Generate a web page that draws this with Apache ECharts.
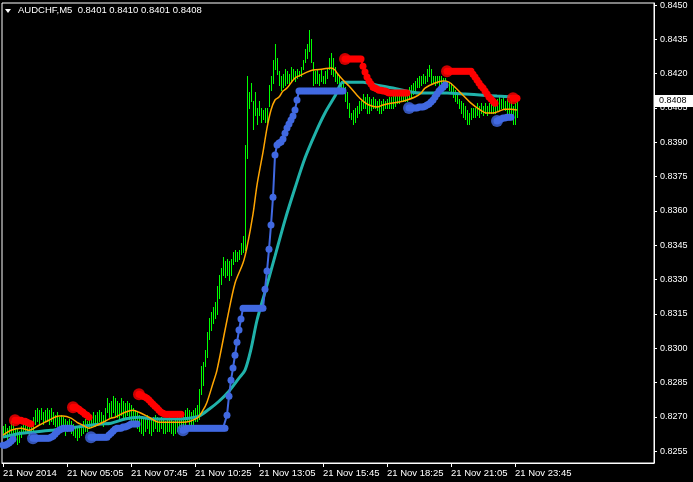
<!DOCTYPE html>
<html><head><meta charset="utf-8">
<script src="https://cdn.jsdelivr.net/npm/echarts@6/dist/echarts.min.js"></script>
<style>html,body{margin:0;padding:0;background:#000;}#c{width:693px;height:482px;}</style>
</head><body><div id="c"></div>
<script>
// ---- data ----
const symbolTitle = 'AUDCHF,M5';
const lastOHLC = [0.8401, 0.8410, 0.8401, 0.8408];
const priceTicks = [0.8255,0.8270,0.8285,0.8300,0.8315,0.8330,0.8345,0.8360,0.8375,0.8390,0.8405,0.8420,0.8435,0.8450];
const timeLabels = ['21 Nov 2014','21 Nov 05:05','21 Nov 07:45','21 Nov 10:25','21 Nov 13:05','21 Nov 15:45','21 Nov 18:25','21 Nov 21:05','21 Nov 23:45'];
const labelEvery = 32;      // bars between time labels
const slotCount = 326;      // bar slots across the window (incl. empty shift space)

// [high, low] per M5 bar
const hl = [
[.8266,.8261],[.8267,.8262],[.8265,.8260],[.8266,.8262],[.8268,.8263],[.8267,.8262],[.8265,.8260],[.8265,.8258],[.8264,.8259],[.8266,.8261],
[.8267,.8263],[.8268,.8264],[.8267,.8263],[.8266,.8262],[.8267,.8263],
[.8270,.8264],[.8273,.8267],[.8274,.8268],[.8273,.8267],[.8274,.8269],[.8272,.8267],[.8273,.8268],[.8274,.8268],[.8273,.8267],[.8274,.8268],
[.8272,.8267],[.8271,.8266],[.8272,.8266],[.8270,.8265],[.8271,.8266],
[.8270,.8264],[.8269,.8262],[.8268,.8264],[.8269,.8265],[.8268,.8263],[.8267,.8262],[.8266,.8261],[.8265,.8260],[.8266,.8261],[.8267,.8262],
[.8268,.8263],[.8269,.8264],[.8268,.8264],[.8270,.8265],[.8271,.8266],
[.8272,.8267],[.8271,.8266],[.8272,.8267],[.8273,.8268],[.8272,.8267],[.8271,.8266],[.8274,.8268],[.8278,.8272],[.8276,.8270],
[.8277,.8270],[.8279,.8272],[.8278,.8271],[.8277,.8270],[.8276,.8269],[.8278,.8271],[.8277,.8270],[.8276,.8270],[.8277,.8271],[.8276,.8269],
[.8275,.8268],[.8274,.8267],[.8273,.8266],
[.8272,.8265],[.8271,.8264],[.8270,.8263],[.8269,.8262],[.8270,.8264],[.8271,.8265],[.8270,.8263],[.8269,.8262],[.8270,.8264],[.8271,.8265],
[.8270,.8264],
[.8269,.8264],[.8270,.8265],[.8269,.8263],[.8268,.8263],[.8269,.8264],[.8270,.8264],[.8269,.8263],[.8268,.8262],[.8269,.8263],[.8270,.8264],
[.8271,.8265],[.8270,.8265],
[.8272,.8266],[.8273,.8267],[.8274,.8268],[.8273,.8267],[.8272,.8266],[.8273,.8267],[.8274,.8268],[.8275,.8268],
[.8282,.8269],[.8292,.8280],[.8294,.8284],[.8299,.8292],[.8307,.8296],[.8313,.8304],[.8316,.8308],[.8318,.8311],[.8320,.8313],[.8327,.8315],
[.8332,.8322],[.8335,.8328],[.8340,.8332],[.8338,.8331],[.8339,.8332],[.8338,.8330],[.8339,.8332],[.8342,.8337],[.8343,.8338],[.8342,.8338],
[.8343,.8339],[.8346,.8341],[.8349,.8342],[.8389,.8343],[.8419,.8383],
[.8412,.8405],[.8416,.8408],[.8408,.8396],[.8412,.8402],[.8405,.8398],[.8408,.8402],[.8405,.8399],[.8404,.8400],[.8405,.8399],[.8405,.8399],
[.8415,.8406],[.8419,.8413],[.8426,.8416],[.8433,.8422],[.8427,.8420],[.8421,.8415],[.8419,.8413],[.8420,.8414],[.8422,.8415],[.8421,.8416],
[.8420,.8415],[.8423,.8417],[.8422,.8418],[.8421,.8417],[.8422,.8418],[.8421,.8419],[.8423,.8419],[.8426,.8422],[.8431,.8425],[.8433,.8427],
[.8439,.8430],[.8435,.8425],[.8425,.8415],
[.8421,.8416],[.8422,.8416],[.8420,.8415],[.8422,.8417],[.8419,.8416],[.8421,.8416],[.8422,.8418],[.8427,.8422],[.8429,.8420],[.8427,.8419],
[.8423,.8417],[.8420,.8416],[.8419,.8416],[.8417,.8414],[.8416,.8413],[.8414,.8408],[.8412,.8405],[.8407,.8401],[.8403,.8400],[.8404,.8398],
[.8405,.8399],[.8406,.8401],[.8408,.8403],[.8408,.8404],[.8411,.8405],[.8410,.8405],[.8411,.8403],[.8410,.8403],[.8409,.8404],[.8410,.8405],
[.8409,.8405],[.8408,.8404],[.8409,.8403],[.8408,.8403],[.8409,.8404],[.8408,.8405],[.8409,.8405],[.8410,.8405],[.8410,.8405],[.8411,.8405],
[.8412,.8406],[.8412,.8407],[.8411,.8407],[.8412,.8408],[.8413,.8408],[.8413,.8408],[.8412,.8408],[.8414,.8409],[.8415,.8410],[.8416,.8411],
[.8417,.8412],[.8418,.8414],[.8419,.8414],[.8419,.8415],[.8420,.8416],[.8419,.8416],[.8422,.8417],[.8424,.8419],[.8422,.8416],[.8419,.8416],
[.8419,.8415],[.8419,.8416],[.8419,.8415],[.8419,.8416],[.8418,.8415],[.8418,.8414],[.8417,.8414],[.8416,.8413],[.8416,.8412],[.8414,.8410],
[.8413,.8408],[.8412,.8407],[.8409,.8405],[.8408,.8403],[.8407,.8401],[.8406,.8400],[.8404,.8398],[.8403,.8398],[.8405,.8400],[.8405,.8401],
[.8405,.8401],[.8407,.8402],[.8406,.8401],[.8407,.8403],[.8406,.8402],[.8407,.8403],[.8406,.8402],[.8407,.8403],[.8408,.8403],[.8408,.8403],
[.8408,.8403],[.8409,.8404],[.8410,.8404],[.8409,.8405],[.8410,.8405],[.8408,.8404],[.8409,.8403],[.8408,.8401],[.8408,.8402],[.8406,.8398],
[.8407,.8398],[.8410,.8401]
];

// fast MA (orange): [bar, value]
const fastMA = [[0,.82620],[4,.82641],[9,.82650],[13,.82641],[18,.82663],[23,.82685],[28,.82703],[30,.82703],[34,.82694],[37,.82676],
[40,.82663],[43,.82650],[47,.82663],[50,.82676],[54,.82694],[56,.82698],[61,.82720],[65,.82729],[68,.82720],[73,.82698],
[78,.82676],[83,.82676],[90,.82676],[97,.82694],[100,.82729],[102,.82764],[105,.82847],[107,.82904],[112,.83122],[116,.83284],
[120,.83372],[122,.83442],[125,.83586],[127,.83713],[130,.83857],[132,.83962],[134,.84041],[136,.84085],[138,.84098],[140,.84124],
[142,.84137],[146,.84181],[149,.84194],[152,.84207],[155,.84216],[160,.84220],[164,.84225],[166,.84216],[167,.84203],[170,.84172],
[173,.84146],[177,.84106],[180,.84080],[183,.84063],[187,.84054],[190,.84063],[194,.84071],[198,.84076],[202,.84085],[206,.84098],
[209,.84115],[211,.84137],[216,.84159],[220,.84168],[223,.84163],[226,.84141],[230,.84106],[234,.84071],[238,.84045],[242,.84028],
[245,.84028],[248,.84036],[251,.84045],[254,.84045],[257,.84041]];

// slow MA (teal): [bar, value]
const slowMA = [[0,.82611],[9,.82628],[15,.82633],[24,.82641],[32,.82650],[40,.82659],[49,.82668],[54,.82672],[61,.82690],[68,.82698],
[76,.82690],[85,.82690],[93,.82694],[98,.82703],[103,.82733],[108,.82768],[113,.82812],[118,.82869],[121,.82904],[124,.82996],
[127,.83122],[131,.83245],[136,.83402],[141,.83560],[146,.83700],[151,.83831],[156,.83936],[161,.84028],[166,.84102],[170,.84163],
[175,.84163],[180,.84163],[187,.84150],[195,.84137],[204,.84120],[209,.84115],[215,.84115],[222,.84115],[231,.84111],[240,.84106],
[247,.84102],[256,.84098]];

// trailing stop, up-trend segments (blue): [first bar, values...]
const upStop = [
 [0,  [.82576,.82576,.82580,.82585,.82593,.82602]],
 [15, [.82606,.82606,.82606,.82606,.82606,.82606,.82606,.82606,.82606,.82611,.82615,.82624,.82633,.82641,.82646,.82650,.82650,.82650,.82650,.82650]],
 [44, [.82611,.82611,.82611,.82611,.82611,.82611,.82611,.82611,.82611,.82620,.82628,.82637,.82646,.82650,.82650,.82650,.82655,.82655,.82659,.82663,.82668,.82668,.82668,.82668]],
 [90, [.82641,.82646,.82650,.82650,.82650,.82650,.82650,.82650,.82650,.82650,.82650,.82650,.82650,.82650,.82650,.82650,.82650,.82650,.82650,.82650,.82650,.82650,
       .82707,.82790,.82860,.82913,.82969,.83026,.83079,.83127,
       .83175,.83175,.83175,.83175,.83175,.83175,.83175,.83175,.83175,.83175,.83175,
       .83258,.83337,.83433,.83538,.83660,.83844,.83888,.83897,.83901,.83914,.83940,.83962,.83980,.83997,.84015,.84041,.84085,
       .84124,.84124,.84124,.84124,.84124,.84124,.84124,.84124,.84124,.84124,.84124,.84124,.84124,.84124,.84124,.84124,.84124,.84124,.84124,.84124,.84124,.84124,.84124]],
 [203,[.84050,.84050,.84050,.84050,.84050,.84054,.84054,.84054,.84058,.84063,.84067,.84076,.84085,.84098,.84111,.84124,.84133,.84141,.84150]],
 [247,[.83993,.83997,.84002,.84006,.84006,.84010,.84010,.84010]]
];
// trailing stop, down-trend segments (red)
const downStop = [
 [6,  [.82685,.82685,.82685,.82685,.82681,.82681,.82676,.82672,.82668]],
 [35, [.82742,.82742,.82738,.82733,.82725,.82720,.82711,.82707,.82698]],
 [68, [.82799,.82795,.82790,.82786,.82781,.82773,.82764,.82755,.82746,.82738,.82729,.82720,.82716,
       .82711,.82711,.82711,.82711,.82711,.82711,.82711,.82711,.82711]],
 [171,[.84264,.84264,.84264,.84264,.84264,.84264,.84264,.84264,.84264,.84233,.84207,.84185,.84168,.84155,.84141,.84137,.84133,.84128,.84128,.84124,.84124,.84120,
       .84115,.84115,.84115,.84115,.84115,.84115,.84115,.84115,.84115,.84115]],
 [222,[.84211,.84211,.84211,.84211,.84211,.84211,.84211,.84211,.84211,.84211,.84211,.84211,.84211,.84198,.84185,.84172,.84159,.84146,.84137,.84124,.84111,.84098,.84089,.84080,.84071]],
 [255,[.84093,.84093,.84093]]
];

// ---- build ----
const slots = []; for (let i = 0; i < slotCount; i++) slots.push(String(i));
function expand(segs){ const a = new Array(hl.length).fill(null); segs.forEach(s => s[1].forEach((v,k)=>{ a[s[0]+k] = v; })); return a; }
function starts(segs){ return segs.filter(s => s[0] > 0).map(s => [s[0], s[1][0]]); }
const FONT = '"Liberation Sans", Arial, sans-serif';
const showLbl = i => i % labelEvery === 0 && i / labelEvery < timeLabels.length;

const chart = echarts.init(document.getElementById('c'), null, {renderer: 'canvas'});
chart.setOption({
  animation: false,
  backgroundColor: '#000',
  textStyle: {fontFamily: FONT},
  grid: {left: 2, top: 3, width: 652, height: 460, show: true, borderColor: '#fff', borderWidth: 1, containLabel: false, outerBoundsMode: 'none'},
  xAxis: {
    type: 'category', data: slots, boundaryGap: true,
    axisLine: {show: true, lineStyle: {color: '#fff'}},
    axisTick: {show: true, alignWithLabel: true, interval: (i) => showLbl(i), length: 4, lineStyle: {color: '#fff'}},
    axisLabel: {interval: (i) => showLbl(i), formatter: (v, i) => timeLabels[i / labelEvery] || '', color: '#fff', fontSize: 9.5, fontFamily: FONT, align: 'left', margin: 5},
    splitLine: {show: false}
  },
  yAxis: {
    type: 'value', position: 'right', min: 0.82498, max: 0.84509, scale: true,
    axisLine: {show: true, lineStyle: {color: '#fff'}},
    axisTick: {show: true, customValues: priceTicks, length: 3, lineStyle: {color: '#fff'}},
    axisLabel: {customValues: priceTicks, formatter: v => v.toFixed(4), color: '#fff', fontSize: 9, fontFamily: FONT, margin: 6},
    splitLine: {show: false}
  },
  series: [
    { type: 'custom', name: 'bars', z: 1, encode: {x: 0, y: [1, 2]},
      data: hl.map((b, i) => [i, b[0], b[1]]),
      renderItem: (params, api) => {
        const i = api.value(0);
        const t = api.coord([i, api.value(1)]);
        const b = api.coord([i, api.value(2)]);
        const x = Math.round(t[0]) + 0.5;
        return {type: 'line', shape: {x1: x, y1: Math.round(t[1]), x2: x, y2: Math.round(b[1]) + 1}, style: {stroke: '#00ff00', lineWidth: 1}};
      }
    },
    { type: 'line', name: 'slow', z: 2, data: slowMA, smooth: 0.3, showSymbol: false, lineStyle: {color: '#20b2aa', width: 3}, itemStyle: {color: '#20b2aa'} },
    { type: 'line', name: 'fast', z: 3, data: fastMA, smooth: 0.3, showSymbol: false, lineStyle: {color: '#ffa500', width: 1.5}, itemStyle: {color: '#ffa500'} },
    { type: 'line', name: 'up', z: 4, data: expand(upStop), connectNulls: false, symbol: 'circle', symbolSize: 7, showSymbol: true, showAllSymbol: true,
      lineStyle: {color: '#4169e1', width: 2}, itemStyle: {color: '#4169e1', borderWidth: 0} },
    { type: 'line', name: 'down', z: 5, data: expand(downStop), connectNulls: false, symbol: 'circle', symbolSize: 7, showSymbol: true, showAllSymbol: true,
      lineStyle: {color: '#ff0000', width: 2}, itemStyle: {color: '#ff0000', borderWidth: 0} },
    { type: 'scatter', name: 'upStart', z: 6, data: starts(upStop), symbolSize: 12, itemStyle: {color: '#4169e1'} },
    { type: 'scatter', name: 'downStart', z: 6, data: starts(downStop), symbolSize: 12, itemStyle: {color: '#ff0000'} }
  ]
});

const py = chart.convertToPixel({yAxisIndex: 0}, lastOHLC[3]);
chart.setOption({
  graphic: [
    {type: 'polygon', z: 100, shape: {points: [[5,9],[11,9],[8,13]]}, style: {fill: '#fff'}},
    {type: 'text', z: 100, left: 18, top: 5, style: {text: symbolTitle + '  ' + lastOHLC.map(v => v.toFixed(4)).join(' '), fill: '#fff', font: '9.5px ' + FONT}},
    {type: 'rect', z: 100, shape: {x: 655, y: Math.round(py) - 6, width: 38, height: 12}, style: {fill: '#fff'}},
    {type: 'text', z: 101, x: 659, y: Math.round(py), style: {text: lastOHLC[3].toFixed(4), fill: '#000', font: '9px ' + FONT, verticalAlign: 'middle'}}
  ]
});
</script></body></html>
